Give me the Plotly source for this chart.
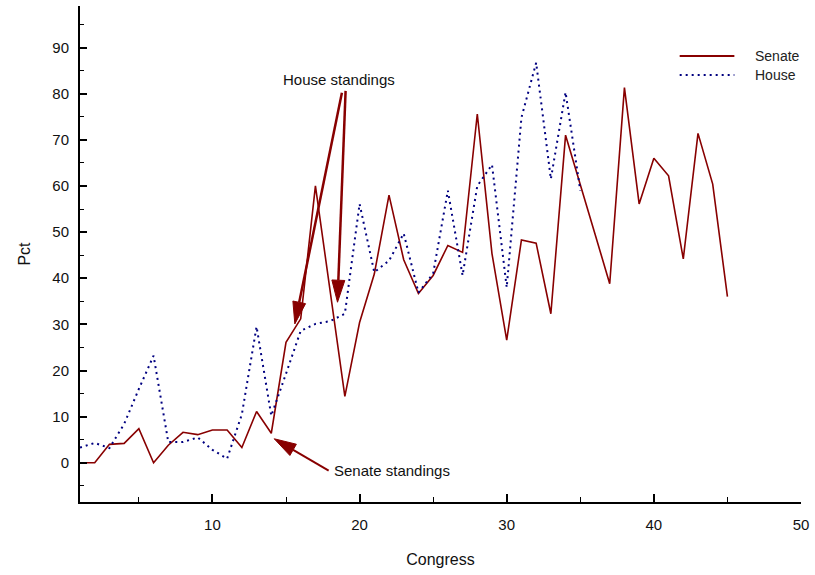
import numpy as np
import plotly.graph_objects as go

# Share of standings per Congress
congress_senate = list(range(1, 46))
senate_pct = [0.0, 0.0, 4.0, 4.2, 7.4, 0.0, 3.8, 6.6, 6.1, 7.1,
              7.1, 3.3, 11.1, 6.4, 26.1, 31.2, 60.0, 37.2, 14.4, 30.4,
              40.9, 58.0, 44.0, 36.7, 40.6, 47.1, 45.6, 75.6, 45.3, 26.6,
              48.3, 47.6, 32.3, 71.0, 60.5, 49.6, 38.8, 81.3, 56.1, 66.0,
              62.2, 44.2, 71.4, 60.4, 36.0]

congress_house = list(range(1, 36))
house_pct = [3.3, 4.3, 3.2, 8.4, 16.0, 23.2, 4.5, 4.5, 5.5, 2.8,
             0.9, 10.5, 29.5, 10.2, 19.3, 28.6, 30.1, 30.7, 32.3, 56.1,
             41.3, 43.8, 49.7, 36.9, 41.0, 59.0, 40.6, 60.0, 64.6, 38.0,
             74.8, 86.7, 61.5, 80.3, 59.0]

x_ticks = [10, 20, 30, 40, 50]
y_ticks = [0, 10, 20, 30, 40, 50, 60, 70, 80, 90]

# Page and axis geometry
W, H = 815, 575
ML, MR, MT, MB = 80, 10, 6, 73
X_RANGE = [1, 50]
Y_RANGE = [-8.5, 99]

SENATE_COLOR = "#880000"
HOUSE_COLOR = "#000080"
FONT = "Liberation Sans, Arial, sans-serif"

# Annotation arrows: (tail, tip) in data coordinates
house_arrows = [((18.8, 80.2), (15.6, 30.1)),
                ((19.05, 80.6), (18.5, 34.8))]
senate_arrows = [((17.9, -1.7), (14.2, 5.2))]


def to_px(x, y):
    pw = W - ML - MR
    ph = H - MT - MB
    px = ML + (x - X_RANGE[0]) / (X_RANGE[1] - X_RANGE[0]) * pw
    py = MT + (Y_RANGE[1] - y) / (Y_RANGE[1] - Y_RANGE[0]) * ph
    return px, py


def to_data(px, py):
    pw = W - ML - MR
    ph = H - MT - MB
    x = X_RANGE[0] + (px - ML) / pw * (X_RANGE[1] - X_RANGE[0])
    y = Y_RANGE[1] - (py - MT) / ph * (Y_RANGE[1] - Y_RANGE[0])
    return x, y


def arrow_shapes(tail, tip, width, head_len=22, head_w=13):
    tx, ty = to_px(*tail)
    hx, hy = to_px(*tip)
    d = np.array([hx - tx, hy - ty])
    u = d / np.linalg.norm(d)
    n = np.array([-u[1], u[0]])
    base = np.array([hx, hy]) - head_len * u
    c1 = base + n * head_w / 2
    c2 = base - n * head_w / 2
    bx, by = to_data(*base)
    p1 = to_data(*c1)
    p2 = to_data(*c2)
    line = dict(type="line", xref="x", yref="y", x0=tail[0], y0=tail[1],
                x1=bx, y1=by, line=dict(color=SENATE_COLOR, width=width))
    head = dict(type="path", xref="x", yref="y",
                path=f"M {tip[0]} {tip[1]} L {p1[0]} {p1[1]} L {p2[0]} {p2[1]} Z",
                fillcolor=SENATE_COLOR, line=dict(color=SENATE_COLOR, width=1))
    return [line, head]


fig = go.Figure()
fig.add_trace(go.Scatter(x=congress_senate, y=senate_pct, mode="lines",
                         name="Senate", line=dict(color=SENATE_COLOR, width=1.6)))
fig.add_trace(go.Scatter(x=congress_house, y=house_pct, mode="lines",
                         name="House",
                         line=dict(color=HOUSE_COLOR, width=2, dash="2px,4px")))

shapes = []
for tail, tip in house_arrows:
    shapes += arrow_shapes(tail, tip, 2.5)
for tail, tip in senate_arrows:
    shapes += arrow_shapes(tail, tip, 2)


def paper(px, py):
    return (px - ML) / (W - ML - MR), (H - MB - py) / (H - MT - MB)


# Legend drawn as line samples with labels
lx0, ly_s = paper(683, 56)
lx1, ly_h = paper(738, 75)
shapes.append(dict(type="line", xref="paper", yref="paper", x0=lx0, x1=lx1,
                   y0=ly_s, y1=ly_s, line=dict(color=SENATE_COLOR, width=2)))
shapes.append(dict(type="line", xref="paper", yref="paper", x0=lx0, x1=lx1,
                   y0=ly_h, y1=ly_h,
                   line=dict(color=HOUSE_COLOR, width=2, dash="2px,4px")))
tx_leg, _ = paper(757, 0)

annotations = [
    dict(x=tx_leg, y=ly_s, xref="paper", yref="paper", text="Senate",
         showarrow=False, xanchor="left", yanchor="middle",
         font=dict(size=14, color="#222", family=FONT)),
    dict(x=tx_leg, y=ly_h, xref="paper", yref="paper", text="House",
         showarrow=False, xanchor="left", yanchor="middle",
         font=dict(size=14, color="#222", family=FONT)),
    dict(x=house_arrows[0][0][0] - 0.2, y=house_arrows[0][0][1] + 0.5,
         xref="x", yref="y", text="House standings", showarrow=False,
         xanchor="center", yanchor="bottom",
         font=dict(size=15, color="#111", family=FONT)),
    dict(x=senate_arrows[0][0][0] + 0.2, y=senate_arrows[0][0][1],
         xref="x", yref="y", text="Senate standings", showarrow=False,
         xanchor="left", yanchor="middle",
         font=dict(size=15, color="#111", family=FONT)),
]

fig.update_layout(
    width=W, height=H,
    margin=dict(l=ML, r=MR, t=MT, b=MB),
    paper_bgcolor="white", plot_bgcolor="white",
    showlegend=False,
    shapes=shapes,
    annotations=annotations,
    font=dict(family=FONT, size=15, color="#111"),
    xaxis=dict(range=X_RANGE, tickvals=x_ticks, ticks="inside", ticklen=8,
               tickwidth=1.5, tickcolor="black", showline=True, linewidth=2,
               linecolor="black", showgrid=False, zeroline=False,
               ticklabelstandoff=8,
               minor=dict(tickvals=[5, 15, 25, 35, 45], ticks="inside",
                          ticklen=5, tickwidth=1, tickcolor="black"),
               title=dict(text="Congress", standoff=22,
                          font=dict(size=16, family=FONT))),
    yaxis=dict(range=Y_RANGE, tickvals=y_ticks, ticks="inside", ticklen=7,
               tickwidth=1.5, tickcolor="black", showline=True, linewidth=2,
               linecolor="black", showgrid=False, zeroline=False,
               ticklabelstandoff=6,
               minor=dict(tickvals=[-5, 5, 15, 25, 35, 45, 55, 65, 75, 85, 95],
                          ticks="inside", ticklen=4, tickwidth=1,
                          tickcolor="black"),
               title=dict(text="Pct", standoff=18,
                          font=dict(size=16, family=FONT))),
)

fig.write_html("out.html")
